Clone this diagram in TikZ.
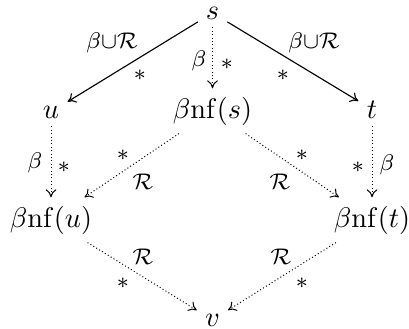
\documentclass[tikz,border=0pt]{standalone}
\usetikzlibrary{arrows.meta}
\begin{document}
\begin{tikzpicture}[x=0.3533pt,y=-0.3533pt,
  obj/.style={inner sep=3pt,outer sep=0pt,anchor=base,font=\fontsize{10}{12}\selectfont},
  lbl/.style={inner sep=0pt,font=\fontsize{7.8}{9}\selectfont},
  tip/.style={-{Computer Modern Rightarrow[length=2.8pt,width=3.8pt]}},
  solidarrow/.style={tip,line width=0.4pt},
  dotarrow/.style={tip,line width=0.35pt,dash pattern=on 0.35pt off 0.85pt}]
\useasboundingbox (0,0) rectangle (409,328);
% objects
\node[obj,inner ysep=0.5pt] (s)  at (212.5,19)  {$s$};
\node[obj] (u)  at (51,118)    {$u$};
\node[obj] (bs) at (212.5,118) {$\beta\mathrm{nf}(s)$};
\node[obj] (t)  at (372,118)   {$t$};
\node[obj] (bu) at (51,227)    {$\beta\mathrm{nf}(u)$};
\node[obj] (bt) at (372,227)   {$\beta\mathrm{nf}(t)$};
\node[obj,inner ysep=0.5pt] (v)  at (212.5,326) {$v$};
% connectors
\draw[solidarrow,shorten <=1pt] (s) -- (u);
\draw[solidarrow,shorten <=1pt] (s) -- (t);
\draw[dotarrow,shorten <=2.5pt] (s) -- (bs);
\draw[dotarrow] (u) -- (bu);
\draw[dotarrow] (t) -- (bt);
\draw[dotarrow] (bs) -- (bu);
\draw[dotarrow] (bs) -- (bt);
\draw[dotarrow,shorten >=1.5pt] (bu) -- (v);
\draw[dotarrow,shorten >=1.5pt] (bt) -- (v);
% labels
\node[lbl] (l1) at (112,43) {$\beta{\cup}\mathcal{R}$};
\node[lbl] (l2) at (140,75) {$*$};
\node[lbl] (l3) at (314,43) {$\beta{\cup}\mathcal{R}$};
\node[lbl] (l4) at (283,75) {$*$};
\node[lbl] (l5) at (199,61) {$\beta$};
\node[lbl] (l6) at (227,64) {$*$};
\node[lbl] (l7) at (35,163) {$\beta$};
\node[lbl] (l8) at (64,167) {$*$};
\node[lbl] (l9) at (358,167) {$*$};
\node[lbl] (l10) at (387,165) {$\beta$};
\node[lbl] (l11) at (123,155) {$*$};
\node[lbl] (l12) at (143,182) {$\mathcal{R}$};
\node[lbl] (l13) at (302,155) {$*$};
\node[lbl] (l14) at (280,182) {$\mathcal{R}$};
\node[lbl] (l15) at (143,257) {$\mathcal{R}$};
\node[lbl] (l16) at (123,283) {$*$};
\node[lbl] (l17) at (281,257) {$\mathcal{R}$};
\node[lbl] (l18) at (302,283) {$*$};
\end{tikzpicture}
\end{document}
